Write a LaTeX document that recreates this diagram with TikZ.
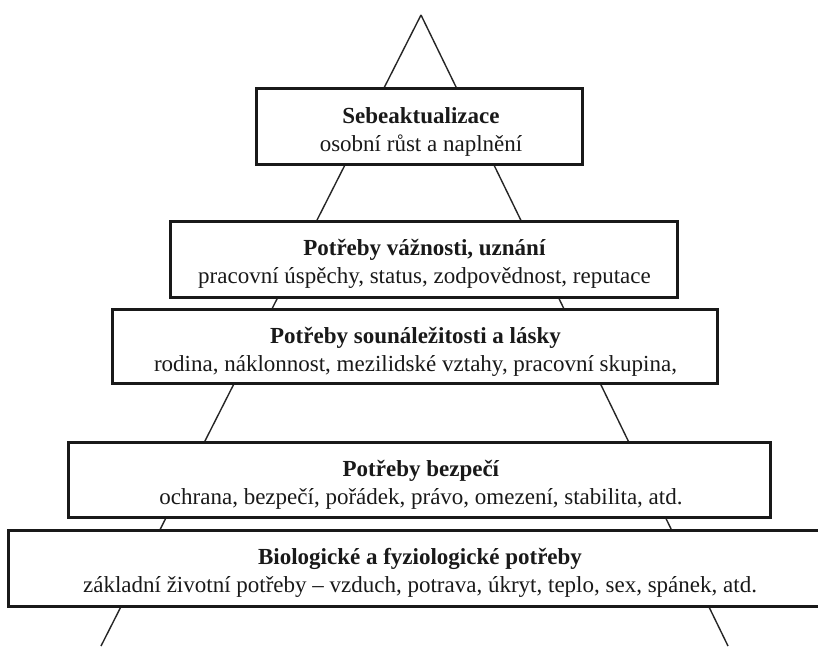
\documentclass[tikz,border=0pt]{standalone}
\usepackage{fontspec}
\setmainfont{Liberation Serif}

\begin{document}
\begin{tikzpicture}[
  x=1pt, y=-1pt,
  font=\fontsize{23}{28}\selectfont,
  side/.style={draw=black!85,line width=1.4pt},
  tier/.style={draw=black!90,line width=3pt,fill=white,inner sep=0pt},
  words/.style={align=center,inner sep=0pt,text=black!90}
]

% ---- canvas ----
\fill[white] (0,0) rectangle (818,646);
\useasboundingbox (0,0) rectangle (818,646);

% ---- pyramid sides ----
\coordinate (apex)  at (421,15);
\coordinate (baseL) at (101,646);
\coordinate (baseR) at (728,646);
\draw[side] (apex) -- (baseL);
\draw[side] (apex) -- (baseR);

% ---- tiers, top to bottom ----
\node[tier,minimum width=326,minimum height=76] (self)   at (419,126)   {};
\node[tier,minimum width=507,minimum height=76] (esteem) at (423.5,259) {};
\node[tier,minimum width=605,minimum height=74] (love)   at (414.5,346) {};
\node[tier,minimum width=702,minimum height=75] (safety) at (419,479.5) {};
\node[tier,minimum width=812,minimum height=76] (bio)    at (414,568)   {};

% ---- tier texts ----
\node[words] (selfT) at ([shift={(2,6)}]self.center)
  {\textbf{Sebeaktualizace}\\osobní růst a naplnění};
\node[words] (esteemT) at ([shift={(1,5)}]esteem.center)
  {\textbf{Potřeby vážnosti, uznání}\\pracovní úspěchy, status, zodpovědnost, reputace};
\node[words] (loveT) at ([shift={(1,6)}]love.center)
  {\textbf{Potřeby sounáležitosti a lásky}\\rodina, náklonnost, mezilidské vztahy, pracovní skupina,};
\node[words] (safetyT) at ([shift={(2,5)}]safety.center)
  {\textbf{Potřeby bezpečí}\\ochrana, bezpečí, pořádek, právo, omezení, stabilita, atd.};
\node[words] (bioT) at ([shift={(6,5)}]bio.center)
  {\textbf{Biologické a fyziologické potřeby}\\základní životní potřeby – vzduch, potrava, úkryt, teplo, sex, spánek, atd.};

\end{tikzpicture}
\end{document}
